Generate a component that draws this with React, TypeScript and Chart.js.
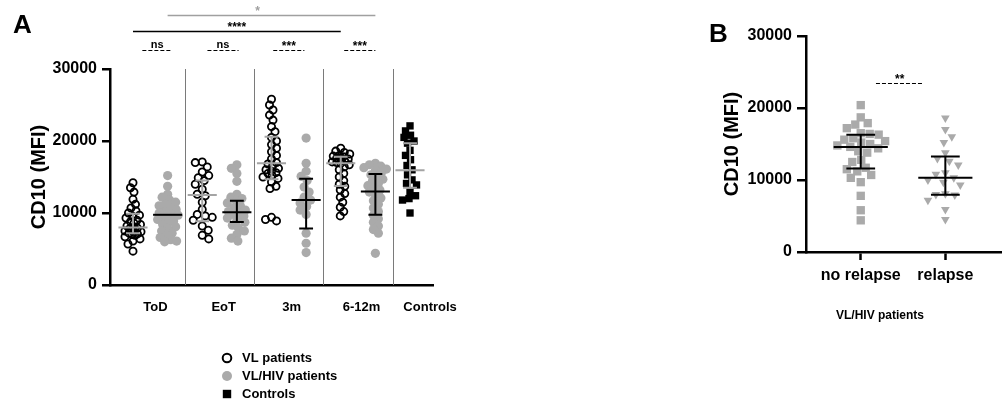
import React, { useEffect, useRef } from 'react';
import { Chart, registerables } from 'chart.js';

Chart.register(...registerables);

const FONT = "'Liberation Sans', Arial, Helvetica, sans-serif";
Chart.defaults.font.family = FONT;
Chart.defaults.font.weight = 'bold';
Chart.defaults.color = '#000';

// ---------- Panel A data ----------
const groupLabels = ['ToD', 'EoT', '3m', '6-12m', 'Controls'];
const groupLabelPos = [0.65, 2.62, 4.58, 6.6, 8.58];
const separatorsA = [1.5, 3.5, 5.5, 7.5];

const vlToD = [14200, 13500, 12900, 11900, 11200, 10700, 10300, 10000, 9700, 9500, 9300, 9000, 8800, 8600, 8400, 8200, 8000, 7900, 7800, 7700, 7600, 7500, 7400, 7300, 7200, 7100, 7000, 6900, 6700, 6400, 6100, 5700, 4700];
const vlEoT = [17100, 17000, 16400, 15700, 15200, 14900, 14500, 14000, 13300, 12600, 12400, 11500, 10500, 9800, 9600, 9400, 9000, 8200, 7600, 6900, 6400];
const vl3m = [25800, 25000, 24300, 23600, 22900, 22000, 21300, 20500, 20000, 19500, 19000, 18500, 18000, 17500, 17000, 16800, 16500, 16200, 16000, 15800, 15600, 15500, 15200, 15000, 14800, 14300, 13700, 13400, 9400, 9100, 8900];
const vl612 = [19000, 18600, 18400, 18200, 18000, 17900, 17800, 17700, 17600, 17500, 17300, 17200, 17100, 17000, 16900, 16700, 16400, 16000, 15500, 15000, 14500, 14000, 13700, 13200, 12700, 12200, 11500, 10800, 10200, 9600];

const hivToD = [15200, 13700, 12600, 12200, 11800, 11500, 11200, 11000, 10700, 10500, 10200, 10000, 9900, 9800, 9700, 9600, 9500, 9300, 9100, 8900, 8700, 8400, 8100, 7800, 7500, 7200, 6900, 6600, 6300, 6100, 6000];
const hivEoT = [16700, 16200, 15500, 14400, 12600, 12200, 12000, 11700, 11400, 11000, 10700, 10400, 10200, 10000, 9800, 9600, 9300, 9000, 8700, 8300, 7900, 7500, 7000, 6500, 6100];
const hiv3m = [20400, 16900, 15800, 15100, 14500, 13600, 12900, 12200, 11800, 11400, 10900, 10400, 9800, 7200, 5800, 4500];
const hiv612 = [16900, 16700, 16500, 16300, 16100, 15900, 15600, 15300, 15000, 14700, 14400, 14100, 13800, 13500, 13200, 12900, 12500, 12100, 11700, 11200, 10700, 10200, 9700, 9200, 8700, 8200, 7700, 7200, 4400];

const controls = [22100, 21400, 20800, 20500, 20000, 19700, 18700, 18000, 17400, 16600, 16000, 15300, 14600, 14100, 13900, 12900, 12400, 12000, 11800, 10000];

// median / IQR per column (positions 0..8: VL ToD, HIV ToD, VL EoT, HIV EoT, VL 3m, HIV 3m, VL 6-12m, HIV 6-12m, Controls)
const medianA = [8000, 9750, 12500, 10100, 16900, 11800, 16900, 13000, 15950];
const q1A: (number | null)[] = [7200, null, 8850, 8750, 14700, 7850, 13750, 9750, 13500];
const q3A: (number | null)[] = [9900, null, 14500, 11700, 20600, 14750, 17800, 15400, 19700];

const sigA = [
  { from: 1, to: 7, level: 37500, text: '*', textAt: 3.6, dashed: false, gray: true },
  { from: 0, to: 6, level: 35300, text: '****', textAt: null, dashed: false, gray: false },
  { from: 0.27, to: 1.13, level: 32600, text: 'ns', textAt: null, dashed: true, gray: false },
  { from: 2.15, to: 3.05, level: 32600, text: 'ns', textAt: null, dashed: true, gray: false },
  { from: 4.05, to: 4.95, level: 32600, text: '***', textAt: null, dashed: true, gray: false },
  { from: 6.1, to: 7.0, level: 32600, text: '***', textAt: null, dashed: true, gray: false },
];

// ---------- Panel B data ----------
const labelsB = ['no relapse', 'relapse'];
const noRelapse = [20400, 18700, 17900, 17700, 17200, 16500, 16400, 16300, 15800, 15600, 15400, 15200, 15000, 14800, 14600, 14400, 14000, 13800, 12800, 12500, 11700, 11500, 11200, 10700, 10300, 9700, 7800, 5800, 4400];
const relapse = [18600, 17000, 16000, 15200, 13800, 13000, 12600, 12100, 11000, 10800, 10300, 10000, 9700, 9300, 8100, 8000, 7900, 7200, 5900, 4500];
const medianB = [14600, 10300];
const q1B = [11600, 7950];
const q3B = [16300, 13250];
const sigB = [{ from: 0.18, to: 0.74, level: 23470, text: '**', textAt: null, dashed: true, gray: false }];

const yTicks = [0, 10000, 20000, 30000];

const HIV_GRAY = '#aaaaaa';
const MED_GRAY = '#a4a4a4';

type Pt = { x: number; y: number };

// deterministic beeswarm layout (pixel-equivalent units)
function swarm(values: number[], center: number, pxPerX: number, pxPerY: number, minDist: number, maxHalf: number): Pt[] {
  const order = values.map((_, i) => i).sort((a, b) => values[b] - values[a]);
  const placed: { dx: number; py: number }[] = [];
  const out: Pt[] = new Array(values.length);
  order.forEach((idx, n) => {
    const py = values[idx] * pxPerY;
    let best = 0;
    let bestScore = -Infinity;
    let found = false;
    for (let k = 0; k <= maxHalf && !found; k += 0.5) {
      const cands = k === 0 ? [0] : n % 2 === 0 ? [k, -k] : [-k, k];
      for (const c of cands) {
        let d = Infinity;
        for (const p of placed) {
          const dd = Math.hypot(p.dx - c, p.py - py);
          if (dd < d) d = dd;
        }
        if (d >= minDist) {
          best = c;
          found = true;
          break;
        }
        const score = d - 0.35 * Math.abs(c);
        if (score > bestScore) {
          bestScore = score;
          best = c;
        }
      }
    }
    placed.push({ dx: best, py });
    out[idx] = { x: center + best / pxPerX, y: values[idx] };
  });
  return out;
}

function makeErrorBars(id: string, centers: number[], med: number[], q1: (number | null)[], q3: (number | null)[], colors: string[], medHalf: number, capHalf: number) {
  return {
    id,
    afterDatasetsDraw(chart: any) {
      const { ctx, scales } = chart;
      const x = scales.x;
      const y = scales.y;
      ctx.save();
      ctx.lineWidth = 2;
      ctx.lineCap = 'butt';
      med.forEach((m, i) => {
        const c = centers[i];
        ctx.strokeStyle = colors[i];
        ctx.beginPath();
        ctx.moveTo(x.getPixelForValue(c - medHalf), y.getPixelForValue(m));
        ctx.lineTo(x.getPixelForValue(c + medHalf), y.getPixelForValue(m));
        const lo = q1[i];
        const hi = q3[i];
        if (lo != null && hi != null) {
          ctx.moveTo(x.getPixelForValue(c), y.getPixelForValue(lo));
          ctx.lineTo(x.getPixelForValue(c), y.getPixelForValue(hi));
          ctx.moveTo(x.getPixelForValue(c - capHalf), y.getPixelForValue(lo));
          ctx.lineTo(x.getPixelForValue(c + capHalf), y.getPixelForValue(lo));
          ctx.moveTo(x.getPixelForValue(c - capHalf), y.getPixelForValue(hi));
          ctx.lineTo(x.getPixelForValue(c + capHalf), y.getPixelForValue(hi));
        }
        ctx.stroke();
      });
      ctx.restore();
    },
  };
}

function makeSig(id: string, items: typeof sigA) {
  return {
    id,
    afterDraw(chart: any) {
      const { ctx, scales } = chart;
      const x = scales.x;
      const y = scales.y;
      ctx.save();
      items.forEach((s) => {
        const x1 = x.getPixelForValue(s.from);
        const x2 = x.getPixelForValue(s.to);
        const yy = Math.round(y.getPixelForValue(s.level)) + 0.5;
        const col = s.gray ? '#a0a0a0' : '#000';
        ctx.strokeStyle = col;
        ctx.lineWidth = s.dashed ? 1.2 : 1.3;
        ctx.setLineDash(s.dashed ? [4, 2] : []);
        ctx.beginPath();
        ctx.moveTo(x1, yy);
        ctx.lineTo(x2, yy);
        ctx.stroke();
        ctx.setLineDash([]);
        ctx.fillStyle = col;
        const isStar = s.text.indexOf('*') >= 0;
        ctx.font = `bold ${isStar ? 12 : 11}px ${FONT}`;
        ctx.textAlign = 'center';
        ctx.textBaseline = 'alphabetic';
        const tx = s.textAt != null ? x.getPixelForValue(s.textAt) : (x1 + x2) / 2;
        ctx.fillText(s.text, tx, yy - (isStar ? 1 : 3));
      });
      ctx.restore();
    },
  };
}

function panelLetter(id: string, letter: string, px: number, baseline: number) {
  return {
    id,
    afterDraw(chart: any) {
      const { ctx } = chart;
      ctx.save();
      ctx.fillStyle = '#000';
      ctx.font = `bold 26px ${FONT}`;
      ctx.textAlign = 'left';
      ctx.textBaseline = 'alphabetic';
      ctx.fillText(letter, px, baseline);
      ctx.restore();
    },
  };
}

const separatorPlugin = {
  id: 'separators',
  beforeDatasetsDraw(chart: any) {
    const { ctx, scales } = chart;
    const x = scales.x;
    const y = scales.y;
    ctx.save();
    ctx.strokeStyle = '#7a7a7a';
    ctx.lineWidth = 1;
    separatorsA.forEach((s) => {
      const px = Math.round(x.getPixelForValue(s)) + 0.5;
      ctx.beginPath();
      ctx.moveTo(px, y.getPixelForValue(30000));
      ctx.lineTo(px, y.getPixelForValue(0));
      ctx.stroke();
    });
    ctx.restore();
  },
};

const legendPlugin = {
  id: 'customLegend',
  afterDraw(chart: any) {
    const { ctx, chartArea } = chart;
    const mx = chartArea.left + 117;
    const tx = chartArea.left + 132;
    ctx.save();
    ctx.font = `bold 13px ${FONT}`;
    ctx.textAlign = 'left';
    ctx.textBaseline = 'middle';
    chart.data.datasets.forEach((ds: any, i: number) => {
      const yy = chartArea.bottom + 73 + i * 18;
      ctx.beginPath();
      if (i === 0) {
        ctx.arc(mx, yy, 4.3, 0, Math.PI * 2);
        ctx.lineWidth = 2;
        ctx.strokeStyle = '#000';
        ctx.stroke();
      } else if (i === 1) {
        ctx.arc(mx, yy, 5, 0, Math.PI * 2);
        ctx.fillStyle = HIV_GRAY;
        ctx.fill();
      } else {
        ctx.fillStyle = '#000';
        ctx.fillRect(mx - 4.2, yy - 4.2, 8.4, 8.4);
      }
      ctx.fillStyle = '#000';
      ctx.fillText(ds.label, tx, yy);
    });
    ctx.restore();
  },
};

const xTitleB = {
  id: 'xTitleB',
  afterDraw(chart: any) {
    const { ctx, chartArea } = chart;
    ctx.save();
    ctx.font = `bold 12px ${FONT}`;
    ctx.fillStyle = '#000';
    ctx.textAlign = 'center';
    ctx.textBaseline = 'middle';
    ctx.fillText('VL/HIV patients', chartArea.left + 74, chartArea.bottom + 64);
    ctx.restore();
  },
};

function yAxis(width: number, tickLen: number, titlePad: number) {
  return {
    type: 'linear' as const,
    min: 0,
    max: 30000,
    afterFit: (s: any) => {
      s.width = width;
    },
    afterBuildTicks: (s: any) => {
      s.ticks = yTicks.map((v) => ({ value: v }));
    },
    ticks: {
      callback: (v: any) => String(v),
      font: { size: 16, weight: 'bold' as const },
      color: '#000',
      padding: 5,
    },
    grid: {
      drawOnChartArea: false,
      drawTicks: true,
      tickLength: tickLen,
      tickWidth: 2.5,
      tickColor: '#000',
      color: '#000',
      lineWidth: 2.5,
    },
    border: { display: true, color: '#000', width: 2.5 },
    title: {
      display: true,
      text: 'CD10 (MFI)',
      font: { size: 20, weight: 'bold' as const },
      color: '#000',
      padding: { top: titlePad, bottom: 0 },
    },
  };
}

export default function App() {
  const refA = useRef<HTMLCanvasElement | null>(null);
  const refB = useRef<HTMLCanvasElement | null>(null);

  useEffect(() => {
    const pxA = 34.625;
    const pyA = 216 / 30000;
    const sw = (vals: number[], c: number, md: number, mh: number) => swarm(vals, c, pxA, pyA, md, mh);
    const vlData = [...sw(vlToD, 0, 5.5, 8), ...sw(vlEoT, 2, 7, 10), ...sw(vl3m, 4, 6, 9), ...sw(vl612, 6, 5.5, 9)];
    const hivData = [...sw(hivToD, 1, 6, 11), ...sw(hivEoT, 3, 6.5, 11), ...sw(hiv3m, 5, 7, 11), ...sw(hiv612, 7, 6, 12)];
    const ctrlData = sw(controls, 8, 6.5, 10);

    const centersA = [0, 1, 2, 3, 4, 5, 6, 7, 8];
    const colorsA = [MED_GRAY, '#000', MED_GRAY, '#000', MED_GRAY, '#000', MED_GRAY, '#000', MED_GRAY];

    const chartA = new Chart(refA.current as HTMLCanvasElement, {
      type: 'scatter',
      data: {
        datasets: [
          { label: 'VL patients', data: vlData, pointStyle: 'circle', pointRadius: 3.6, borderColor: '#000', backgroundColor: 'rgba(0,0,0,0)', borderWidth: 1.8 },
          { label: 'VL/HIV patients', data: hivData, pointStyle: 'circle', pointRadius: 4.6, backgroundColor: HIV_GRAY, borderColor: HIV_GRAY, borderWidth: 0 },
          { label: 'Controls', data: ctrlData, pointStyle: 'rect', pointRadius: 5.2, backgroundColor: '#000', borderColor: '#000', borderWidth: 0 },
        ],
      },
      options: {
        animation: false,
        responsive: true,
        maintainAspectRatio: false,
        events: [],
        layout: { padding: { top: 69, right: 67, left: 0, bottom: 0 } },
        plugins: { legend: { display: false }, tooltip: { enabled: false } },
        scales: {
          x: {
            type: 'linear',
            min: -0.664,
            max: 8.664,
            afterFit: (s: any) => {
              s.height = 115;
            },
            afterBuildTicks: (s: any) => {
              s.ticks = groupLabelPos.map((v) => ({ value: v }));
            },
            ticks: {
              callback: (_v: any, i: number) => groupLabels[i],
              font: { size: 13, weight: 'bold' },
              color: '#000',
              padding: 7,
              maxRotation: 0,
              autoSkip: false,
            },
            grid: { display: false },
            border: { display: true, color: '#000', width: 2.5 },
          },
          y: yAxis(110, 8, 27) as any,
        },
      },
      plugins: [
        separatorPlugin,
        makeErrorBars('ebA', centersA, medianA, q1A, q3A, colorsA, 0.42, 0.2),
        makeSig('sigA', sigA),
        legendPlugin,
        panelLetter('letterA', 'A', 13, 33),
      ],
    });

    const pxB = 85;
    const noRelData = swarm(noRelapse, 0, pxB, pyA, 9, 28);
    const relData = swarm(relapse, 1, pxB, pyA, 9.5, 26);

    const chartB = new Chart(refB.current as HTMLCanvasElement, {
      type: 'scatter',
      data: {
        datasets: [
          { label: 'no relapse', data: noRelData, pointStyle: 'rect', pointRadius: 5.9, backgroundColor: HIV_GRAY, borderColor: HIV_GRAY, borderWidth: 0 },
          { label: 'relapse', data: relData, pointStyle: 'triangle', pointRotation: 180, pointRadius: 5, backgroundColor: HIV_GRAY, borderColor: HIV_GRAY, borderWidth: 0 },
        ],
      },
      options: {
        animation: false,
        responsive: true,
        maintainAspectRatio: false,
        events: [],
        layout: { padding: { top: 36, right: 5, left: 0, bottom: 0 } },
        plugins: { legend: { display: false }, tooltip: { enabled: false } },
        scales: {
          x: {
            type: 'linear',
            min: -0.647,
            max: 1.659,
            afterFit: (s: any) => {
              s.height = 148;
            },
            afterBuildTicks: (s: any) => {
              s.ticks = [0, 1].map((v) => ({ value: v }));
            },
            ticks: {
              callback: (_v: any, i: number) => labelsB[i],
              font: { size: 16, weight: 'bold' },
              color: '#000',
              padding: 6,
              maxRotation: 0,
              autoSkip: false,
            },
            grid: { drawOnChartArea: false, drawTicks: true, tickLength: 8, tickWidth: 2.5, tickColor: '#000', color: '#000' },
            border: { display: true, color: '#000', width: 2.5 },
          },
          y: yAxis(116, 9, 30) as any,
        },
      },
      plugins: [
        makeErrorBars('ebB', [0, 1], medianB, q1B, q3B, ['#000', '#000'], 0.32, 0.17),
        makeSig('sigB', sigB),
        xTitleB,
        panelLetter('letterB', 'B', 19, 42),
      ],
    });

    return () => {
      chartA.destroy();
      chartB.destroy();
    };
  }, []);

  return (
    <div style={{ position: 'absolute', left: 0, top: 0, width: 1007, height: 400, background: '#fff', overflow: 'hidden' }}>
      <div style={{ position: 'absolute', left: 0, top: 0, width: 500, height: 400 }}>
        <canvas ref={refA} />
      </div>
      <div style={{ position: 'absolute', left: 690, top: 0, width: 317, height: 400 }}>
        <canvas ref={refB} />
      </div>
    </div>
  );
}
